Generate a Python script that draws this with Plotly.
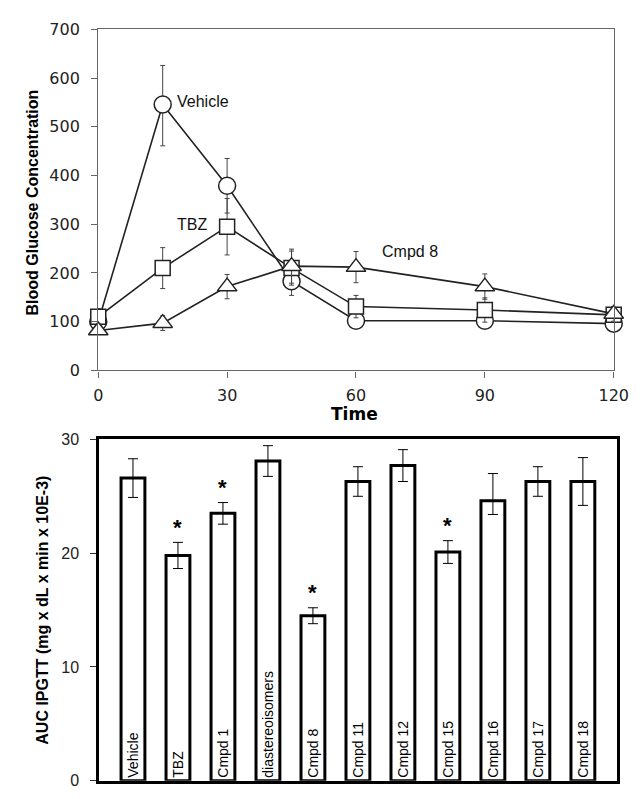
import plotly.graph_objects as go

# ---------------- data ----------------
time_min = [0, 15, 30, 45, 60, 90, 120]
vehicle_mean = [100, 546, 379, 183, 102, 102, 96]
vehicle_err_plus = [8, 80, 56, 29, 8, 8, 8]
vehicle_err_minus = [8, 85, 56, 29, 8, 8, 8]
tbz_mean = [110, 210, 295, 210, 131, 124, 114]
tbz_err = [17, 42, 58, 35, 23, 25, 12]
cmpd8_mean = [82, 97, 172, 214, 212, 172, 116]
cmpd8_err = [8, 15, 25, 35, 32, 26, 15]

top_yticks = [0, 100, 200, 300, 400, 500, 600, 700]
top_xticks = [0, 30, 60, 90, 120]

groups = ["Vehicle", "TBZ", "Cmpd 1", "diastereoisomers", "Cmpd 8", "Cmpd 11",
          "Cmpd 12", "Cmpd 15", "Cmpd 16", "Cmpd 17", "Cmpd 18"]
auc_mean = [26.6, 19.8, 23.5, 28.1, 14.5, 26.3, 27.7, 20.1, 24.6, 26.3, 26.3]
auc_err_plus = [1.7, 1.15, 0.95, 1.35, 0.7, 1.3, 1.4, 1.0, 2.4, 1.3, 2.1]
auc_err_minus = [1.7, 1.15, 0.95, 1.35, 0.7, 1.3, 1.4, 1.0, 1.2, 1.3, 2.1]
significant = [False, True, True, False, True, False, False, True, False, False, False]
bottom_yticks = [0, 10, 20, 30]

W, H = 643, 799
ARIAL = "Arial, Liberation Sans, sans-serif"
DEJAVU = "DejaVu Sans, Verdana, sans-serif"

fig = go.Figure()

line_col = "#222222"
err_col = "#444444"

def series(xv, yv, ep, em, sym, size, name):
    return go.Scatter(
        x=xv, y=yv, mode="lines+markers", name=name,
        line=dict(color=line_col, width=1.6),
        marker=dict(symbol=sym, size=size, color="white",
                    line=dict(color=line_col, width=1.5)),
        error_y=dict(type="data", array=ep, arrayminus=em, color=err_col,
                     thickness=1, width=2.5),
        cliponaxis=False, showlegend=False, xaxis="x", yaxis="y")

fig.add_trace(series(time_min, vehicle_mean, vehicle_err_plus, vehicle_err_minus,
                     "circle", 17, "Vehicle"))
fig.add_trace(series(time_min, tbz_mean, tbz_err, tbz_err, "square", 15, "TBZ"))
fig.add_trace(series(time_min, cmpd8_mean, cmpd8_err, cmpd8_err,
                     "triangle-up", 17, "Cmpd 8"))

fig.add_trace(go.Bar(
    x=groups, y=auc_mean, width=0.53, xaxis="x2", yaxis="y2",
    marker=dict(color="white", line=dict(color="black", width=3)),
    text=groups, textposition="inside", insidetextanchor="start", textangle=-90,
    insidetextfont=dict(family=ARIAL, size=14, color="black"),
    error_y=dict(type="data", array=auc_err_plus, arrayminus=auc_err_minus,
                 color="black", thickness=1, width=5),
    showlegend=False, cliponaxis=False))

annotations = []
for g, m, e, s in zip(groups, auc_mean, auc_err_plus, significant):
    if s:
        annotations.append(dict(x=g, y=m + e + 1.3, xref="x2", yref="y2", text="<b>*</b>",
                                showarrow=False, yanchor="middle",
                                font=dict(family=ARIAL, size=22, color="black")))

# series labels in the top chart
annotations += [
    dict(x=17.9, y=553, xref="x", yref="y", text="Vehicle", xanchor="left",
         yanchor="middle", showarrow=False, font=dict(family=ARIAL, size=16, color="#111")),
    dict(x=17.9, y=300, xref="x", yref="y", text="TBZ", xanchor="left",
         yanchor="middle", showarrow=False, font=dict(family=ARIAL, size=16, color="#111")),
    dict(x=65.6, y=245, xref="x", yref="y", text="Cmpd 8", xanchor="left",
         yanchor="middle", showarrow=False, font=dict(family=ARIAL, size=16, color="#111")),
]

# axis titles
annotations += [
    dict(x=20.6 / W, y=1 - 190 / H, xref="paper", yref="paper",
         text="<b>Blood Glucose Concentration</b>", textangle=-90, showarrow=False,
         xanchor="center", yanchor="middle", font=dict(family=ARIAL, size=16, color="black")),
    dict(x=352 / W, y=1 - 407 / H, xref="paper", yref="paper", text="<b>Time</b>",
         showarrow=False, xanchor="center", yanchor="middle",
         font=dict(family=DEJAVU, size=17, color="black")),
    dict(x=29.6 / W, y=1 - 607.5 / H, xref="paper", yref="paper",
         text="<b>AUC IPGTT (mg x dL x min x 10E-3)</b>", textangle=-90, showarrow=False,
         xanchor="center", yanchor="middle", font=dict(family=ARIAL, size=16, color="black")),
]

top_ax_col = "#666666"
fig.update_layout(
    width=W, height=H, autosize=False,
    margin=dict(l=0, r=0, t=0, b=0),
    paper_bgcolor="white", plot_bgcolor="white",
    annotations=annotations,
    xaxis=dict(domain=[88 / W, 620 / W], range=[0, 120], tickvals=top_xticks,
               showgrid=False, zeroline=False, showline=True, mirror=True,
               linecolor=top_ax_col, linewidth=1.3, ticks="outside", ticklen=6,
               tickcolor=top_ax_col, tickwidth=1, ticklabelstandoff=4,
               tickfont=dict(family=DEJAVU, size=16, color="#222"), anchor="y"),
    yaxis=dict(domain=[1 - 362 / H, 1 - 12.7 / H], range=[0, 700], tickvals=top_yticks,
               showgrid=False, zeroline=False, showline=True, mirror=True,
               linecolor=top_ax_col, linewidth=1.3, ticks="outside", ticklen=6,
               tickcolor=top_ax_col, tickwidth=1, ticklabelstandoff=8,
               tickfont=dict(family=DEJAVU, size=16, color="#222"), anchor="x"),
    xaxis2=dict(domain=[89 / W, 623 / W], range=[-0.75, 10.75], type="category",
                showticklabels=False, showgrid=False, zeroline=False, showline=True,
                mirror=True, linecolor="black", linewidth=3, ticks="", anchor="y2"),
    yaxis2=dict(domain=[1 - 782.3 / H, 1 - 432.7 / H], range=[0, 30], tickvals=bottom_yticks,
                showgrid=False, zeroline=False, showline=True, mirror=True,
                linecolor="black", linewidth=3, ticks="outside", ticklen=6,
                tickcolor="#333", tickwidth=1, ticklabelstandoff=8,
                tickfont=dict(family=ARIAL, size=16, color="#222"), anchor="x2"),
    bargap=0.45,
)

fig.write_html("out.html")
